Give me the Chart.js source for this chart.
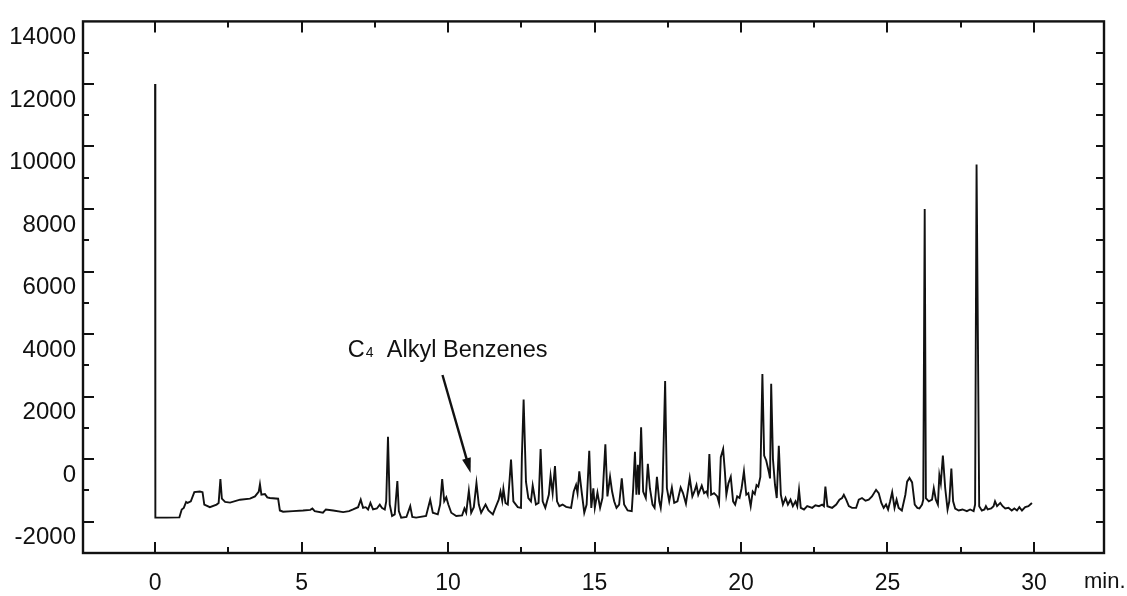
<!DOCTYPE html>
<html>
<head>
<meta charset="utf-8">
<title>Chromatogram</title>
<script src="https://cdn.jsdelivr.net/npm/chart.js@4.4.0/dist/chart.umd.min.js"></script>
<style>
    html, body { margin: 0; padding: 0; background: #fff; }
</style>
</head>
<body>
<canvas id="myChart" width="1127" height="596"></canvas>
<script>
// retention time (min) and detector signal
var retentionTime = [
    0, 0.01, 0.40, 0.83, 0.91, 0.98, 1.06, 1.11, 1.22, 1.34, 1.53, 1.62, 1.68, 1.87, 2.10, 2.17, 2.23, 2.28, 2.39, 2.56,
    2.90, 3.24, 3.41, 3.54, 3.58, 3.63, 3.75, 3.83, 3.92, 4.20, 4.26, 4.37, 4.71, 5.05, 5.30, 5.37, 5.45, 5.73, 5.83, 6.08,
    6.42, 6.62, 6.76, 6.93, 7.02, 7.10, 7.19, 7.27, 7.35, 7.44, 7.57, 7.67, 7.74, 7.84, 7.89, 7.95, 8.01, 8.09, 8.18, 8.27,
    8.32, 8.40, 8.58, 8.71, 8.78, 8.91, 9.25, 9.39, 9.48, 9.65, 9.73, 9.80, 9.87, 9.94, 10.01, 10.11, 10.28, 10.48, 10.56, 10.62,
    10.71, 10.79, 10.88, 10.97, 11.05, 11.13, 11.28, 11.38, 11.53, 11.64, 11.73, 11.79, 11.85, 11.89, 11.96, 12.04, 12.15, 12.23, 12.38, 12.49,
    12.52, 12.58, 12.66, 12.74, 12.83, 12.89, 13.00, 13.09, 13.16, 13.23, 13.32, 13.44, 13.50, 13.57, 13.65, 13.72, 13.80, 13.91, 14.03, 14.20,
    14.29, 14.37, 14.42, 14.48, 14.56, 14.65, 14.73, 14.82, 14.89, 14.96, 15.01, 15.10, 15.19, 15.27, 15.37, 15.44, 15.53, 15.60, 15.67, 15.75,
    15.84, 15.93, 16.01, 16.13, 16.27, 16.32, 16.38, 16.43, 16.48, 16.52, 16.59, 16.66, 16.75, 16.82, 16.89, 16.98, 17.05, 17.13, 17.21, 17.26,
    17.32, 17.41, 17.47, 17.55, 17.64, 17.72, 17.83, 17.94, 18.02, 18.12, 18.25, 18.34, 18.41, 18.48, 18.54, 18.66, 18.74, 18.82, 18.86, 18.92,
    18.98, 19.08, 19.19, 19.25, 19.31, 19.39, 19.45, 19.50, 19.57, 19.65, 19.73, 19.80, 19.87, 19.95, 20.02, 20.10, 20.18, 20.25, 20.33, 20.40,
    20.47, 20.53, 20.59, 20.66, 20.73, 20.79, 20.86, 20.95, 20.99, 21.03, 21.09, 21.16, 21.22, 21.29, 21.36, 21.43, 21.52, 21.60, 21.69, 21.77,
    21.86, 21.92, 21.98, 22.04, 22.15, 22.26, 22.43, 22.54, 22.66, 22.77, 22.83, 22.88, 22.95, 23.11, 23.25, 23.36, 23.45, 23.51, 23.59, 23.68,
    23.79, 23.93, 24.02, 24.13, 24.25, 24.36, 24.47, 24.61, 24.70, 24.79, 24.87, 24.95, 25.02, 25.09, 25.16, 25.24, 25.31, 25.38, 25.49, 25.61,
    25.67, 25.75, 25.84, 25.93, 26.02, 26.09, 26.18, 26.22, 26.27, 26.31, 26.41, 26.52, 26.58, 26.65, 26.72, 26.77, 26.82, 26.89, 26.97, 27.05,
    27.11, 27.18, 27.24, 27.31, 27.43, 27.56, 27.71, 27.82, 27.94, 27.99, 28.04, 28.13, 28.22, 28.31, 28.36, 28.42, 28.54, 28.62, 28.67, 28.74,
    28.85, 28.93, 29.02, 29.13, 29.24, 29.33, 29.42, 29.50, 29.59, 29.70, 29.81, 29.93
];
var signal = [
    12000, -1870, -1870, -1860, -1608, -1560, -1368, -1399, -1347, -1055, -1034, -1055, -1451, -1535, -1451, -1399, -637, -1263, -1368, -1389,
    -1295, -1263, -1190, -1034, -804, -1137, -1117, -1221, -1242, -1263, -1640, -1681, -1660, -1640, -1620, -1577, -1660, -1712, -1608, -1640,
    -1691, -1660, -1608, -1535, -1295, -1556, -1535, -1608, -1399, -1608, -1577, -1451, -1556, -1608, -1347, 720, -1451, -1817, -1764, -699,
    -1660, -1869, -1848, -1503, -1848, -1869, -1817, -1295, -1712, -1764, -1451, -637, -1347, -1221, -1451, -1712, -1817, -1796, -1577, -1712,
    -1012, -1712, -1535, -762, -1451, -1712, -1451, -1640, -1764, -1503, -1295, -1034, -1326, -950, -1399, -1451, -10, -1347, -1535, -1556,
    63, 1910, -720, -1242, -1347, -846, -1450, -1399, 323, -1347, -1556, -1137, -532, -1085, -219, -1347, -1503, -1451, -1525, -1556,
    -1034, -825, -1085, -386, -1034, -1712, -1451, 271, -1556, -929, -1556, -1065, -1556, -1242, 480, -1190, -564, -1034, -1347, -1556,
    -1451, -616, -1451, -1640, -1660, -929, 240, -1137, -177, -1137, 1024, -1034, -1242, -146, -929, -1451, -1556, -564, -1347, -1556,
    -1034, 2496, -929, -1347, -908, -1399, -1347, -908, -1085, -1420, -595, -1190, -1033, -825, -1137, -846, -1085, -1033, -1137, 167,
    -1137, -1085, -1190, -1399, 63, 323, -407, -1137, -773, -564, -1347, -1451, -1190, -1242, -929, -386, -1137, -1085, -1503, -1033,
    -1117, -825, -877, -564, 2725, 115, -42, -407, -616, 2412, 10, -825, -1242, 428, -1137, -1451, -1242, -1451, -1295, -1503,
    -1347, -1503, -981, -1556, -1608, -1503, -1556, -1472, -1503, -1451, -1503, -877, -1503, -1556, -1451, -1295, -1242, -1137, -1295, -1503,
    -1556, -1556, -1295, -1242, -1326, -1295, -1190, -981, -1085, -1399, -1556, -1451, -1608, -1347, -1054, -1556, -1295, -1556, -1640, -1137,
    -720, -600, -742, -1451, -1556, -1577, -1451, -1300, 8000, -1243, -1347, -1295, -929, -1295, -1451, -512, -773, 115, -929, -1608,
    -1347, -303, -1347, -1577, -1640, -1608, -1660, -1608, -1660, -1451, 9420, -1503, -1640, -1608, -1503, -1608, -1577, -1503, -1347, -1503,
    -1399, -1503, -1577, -1556, -1640, -1577, -1640, -1535, -1640, -1535, -1503, -1399
];
var xLabels = [0, 5, 10, 15, 20, 25, 30];
var yLabels = [-2000, 0, 2000, 4000, 6000, 8000, 10000, 12000, 14000];
var xUnit = "min.";
// label "C4  Alkyl Benzenes" with arrow: [time, signal] anchors
var noteText = "Alkyl Benzenes";
var noteAt = [6.58, 3257];
var arrowFrom = [9.81, 2693];
var arrowTo = [10.77, -438];

var FONT = "Liberation Sans, Arial, sans-serif";
var INK = "#111";

var frameAndTicks = {
    id: "frameAndTicks",
    afterDatasetsDraw: function (chart) {
        var ctx = chart.ctx;
        var a = chart.chartArea;
        var xs = chart.scales.x;
        var ys = chart.scales.y;
        ctx.save();
        ctx.strokeStyle = INK;
        ctx.lineWidth = 2.4;
        ctx.strokeRect(a.left, a.top, a.right - a.left, a.bottom - a.top);
        ctx.lineWidth = 2;
        ctx.beginPath();
        xs.ticks.forEach(function (t) {
            if (t.value < 0 || t.value > 30) return;
            var px = Math.round(xs.getPixelForValue(t.value));
            var len = (t.value % 5 === 0) ? 11 : 6;
            ctx.moveTo(px, a.bottom);
            ctx.lineTo(px, a.bottom - len);
            ctx.moveTo(px, a.top);
            ctx.lineTo(px, a.top + len);
        });
        ys.ticks.forEach(function (t) {
            if (t.value <= ys.min || t.value >= ys.max) return;
            var py = Math.round(ys.getPixelForValue(t.value));
            var major = (t.value % 2000 === 0);
            ctx.moveTo(a.left, py);
            ctx.lineTo(a.left + (major ? 11 : 6), py);
            ctx.moveTo(a.right, py);
            ctx.lineTo(a.right - 8, py);
        });
        ctx.stroke();

        // unit after the last x label
        ctx.fillStyle = INK;
        ctx.font = "22px " + FONT;
        ctx.textBaseline = "middle";
        ctx.textAlign = "left";
        ctx.fillText(xUnit, a.right - 20, 582);

        // annotation
        var tx = xs.getPixelForValue(noteAt[0]);
        var ty = ys.getPixelForValue(noteAt[1]);
        ctx.textBaseline = "alphabetic";
        ctx.font = "23.5px " + FONT;
        ctx.fillText("C", tx, ty);
        var cw = ctx.measureText("C").width;
        ctx.font = "14px " + FONT;
        ctx.fillText("4", tx + cw + 1, ty);
        ctx.font = "23.5px " + FONT;
        ctx.fillText(noteText, tx + 39, ty);

        var x1 = xs.getPixelForValue(arrowFrom[0]), y1 = ys.getPixelForValue(arrowFrom[1]);
        var x2 = xs.getPixelForValue(arrowTo[0]), y2 = ys.getPixelForValue(arrowTo[1]);
        var ang = Math.atan2(y2 - y1, x2 - x1);
        var head = 15;
        ctx.lineWidth = 2.4;
        ctx.beginPath();
        ctx.moveTo(x1, y1);
        ctx.lineTo(x2 - Math.cos(ang) * head * 0.8, y2 - Math.sin(ang) * head * 0.8);
        ctx.stroke();
        ctx.beginPath();
        ctx.moveTo(x2, y2);
        ctx.lineTo(x2 - head * Math.cos(ang) + 4.5 * Math.sin(ang), y2 - head * Math.sin(ang) - 4.5 * Math.cos(ang));
        ctx.lineTo(x2 - head * Math.cos(ang) - 4.5 * Math.sin(ang), y2 - head * Math.sin(ang) + 4.5 * Math.cos(ang));
        ctx.closePath();
        ctx.fill();
        ctx.restore();
    }
};

function makeChart() {
    var points = [];
    for (var i = 0; i < retentionTime.length; i++) {
        points.push({x: retentionTime[i], y: signal[i]});
    }
    var canvas = document.getElementById("myChart");
    new Chart(canvas, {
        type: "line",
        data: {
            datasets: [{
                    data: points,
                    borderColor: INK,
                    borderWidth: 1.9,
                    pointRadius: 0,
                    tension: 0,
                    fill: false
                }]
        },
        options: {
            responsive: false,
            animation: false,
            layout: {padding: {top: 11, right: 23, bottom: 0, left: 0}},
            plugins: {
                legend: {display: false},
                tooltip: {enabled: false}
            },
            scales: {
                x: {
                    type: "linear",
                    min: -2.46,
                    max: 32.39,
                    afterFit: function (s) { s.height = 43; },
                    grid: {display: false, drawTicks: false},
                    border: {display: false},
                    ticks: {
                        stepSize: 2.5,
                        includeBounds: false,
                        autoSkip: false,
                        maxRotation: 0,
                        padding: 17,
                        color: INK,
                        font: {family: FONT, size: 23},
                        callback: function (v) {
                            return xLabels.indexOf(v) >= 0 ? String(v) : "";
                        }
                    }
                },
                y: {
                    min: -3000,
                    max: 14000,
                    afterFit: function (s) { s.width = 83; },
                    grid: {display: false, drawTicks: false},
                    border: {display: false},
                    ticks: {
                        stepSize: 1000,
                        autoSkip: false,
                        padding: 7,
                        labelOffset: 16,
                        color: INK,
                        font: {family: FONT, size: 24},
                        callback: function (v) {
                            return yLabels.indexOf(v) >= 0 ? String(v) : "";
                        }
                    }
                }
            }
        },
        plugins: [frameAndTicks]
    });
}
makeChart();
</script>
</body>
</html>
